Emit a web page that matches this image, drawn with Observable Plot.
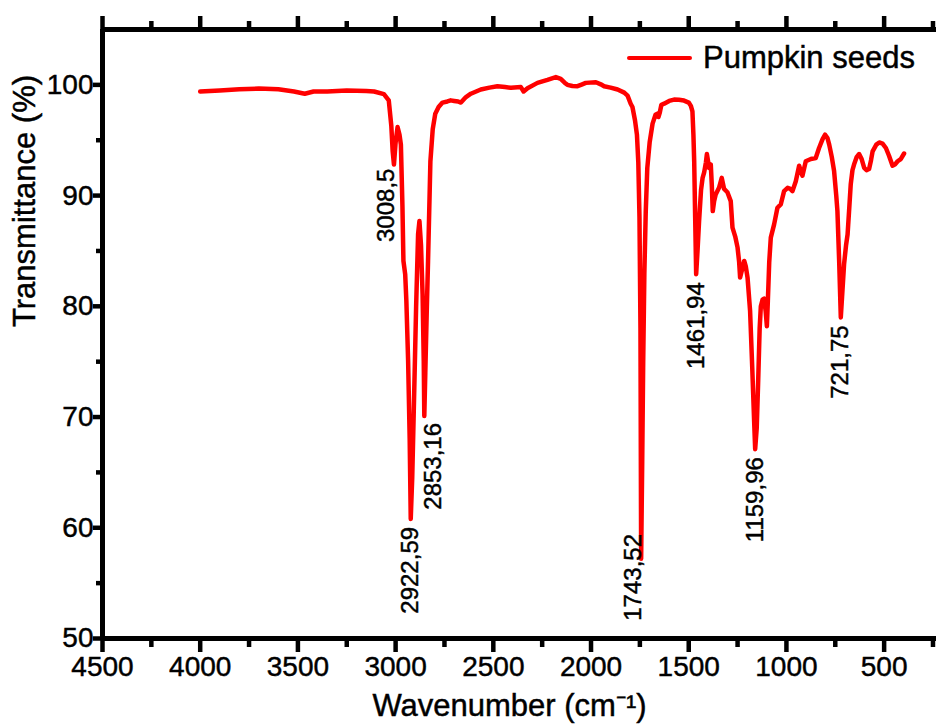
<!DOCTYPE html>
<html><head><meta charset="utf-8">
<script src="https://cdn.jsdelivr.net/npm/d3@7"></script>
<script src="https://cdn.jsdelivr.net/npm/@observablehq/plot@0.6"></script>
<style>
body{margin:0;background:#fff;font-family:"Liberation Sans",Arial,sans-serif;}
#wrap{position:relative;width:936px;height:726px;overflow:hidden;}
#wrap svg text{paint-order:stroke;stroke:#000;stroke-width:0.45px;}
.legend{position:absolute;left:627px;top:40px;display:flex;align-items:center;font-size:31px;color:#000;white-space:nowrap;-webkit-text-stroke:0.45px #000;}
.legend .sw{width:65px;height:4.5px;background:#ff0000;border-radius:2px;margin-right:11px;}
</style></head><body><div id="wrap"></div>
<script>
const seriesName = "Pumpkin seeds";
const xTitle = "Wavenumber (cm\u207B\u00B9)";
const yTitle = "Transmittance (%)";

const wavenumber = [4000,3900,3800,3700,3600,3520,3465,3420,3350,3250,3150,3110,3060,3035,3022,3015,3008.5,3000,2990,2980,2973,2965,2960,2951,2945,2936,2928,2922.59,2915,2905,2895,2885,2878,2870,2862,2856,2853.16,2848,2840,2834,2822,2810,2797,2780,2760,2735,2718,2700,2680,2666,2640,2615,2564,2520,2479,2440,2410,2359,2345,2325,2274,2223,2180,2155,2135,2121,2095,2069,2045,2027,1975,1950,1933,1900,1864,1830,1813,1797,1788,1775,1765,1758,1752,1747,1743.52,1738,1733,1727,1720,1712,1700,1685,1670,1660,1655,1648,1640,1626,1600,1575,1550,1524,1500,1489,1481,1476,1472,1467,1461.94,1455,1447,1437,1429,1421,1412,1407,1400,1396,1387,1382,1377,1370,1362,1345,1331,1319,1302,1285,1276,1262,1250,1242,1237,1226,1216,1208,1199,1186,1175,1165,1159.96,1152,1145,1137,1131,1122,1114,1106,1100,1095,1088,1080,1063,1046,1029,1012,994,980,969,952,935,926,918,901,875,850,833,815,802,790,781,768,756,745,739,730,721.75,713,705,695,687,678,671,662,654,640,628,615,602,590,577,567,559,540,525,508,491,475,457,445,431,415,398];
const transmittance = [99.4,99.5,99.6,99.67,99.6,99.4,99.2,99.4,99.4,99.49,99.45,99.4,99.16,98.6,96.3,94.0,92.8,94.8,96.2,95.5,94.6,89,84.1,82.9,80.5,75.1,68,60.8,64.5,72.1,80,86.5,87.7,85.5,81.1,75,70.1,74,80,84.1,93.1,96,97.4,98.0,98.4,98.5,98.6,98.55,98.5,98.4,98.9,99.2,99.58,99.75,99.88,99.8,99.73,99.8,99.4,99.7,100.18,100.45,100.7,100.54,100.2,100.0,99.9,99.88,100.05,100.18,100.24,100.05,99.88,99.75,99.58,99.3,99.03,98.3,98.0,96.8,95.5,93,88,78,57.2,66,75,83,88.5,92.5,94.8,96.5,97.3,97.4,97.1,97.5,98.2,98.3,98.55,98.67,98.65,98.58,98.4,98.1,97.6,95.5,93.1,88,82.9,85,87.7,90.5,91.6,92.1,93.0,93.75,93.0,92.5,92.8,91,88.6,89.5,90.1,90.7,91.6,90.6,90.3,89.5,87.1,86.3,85.3,84,82.6,83.4,84.1,83.6,82.6,79.6,74.5,69.5,67.1,69,73,78,80.0,80.6,80.7,79.5,78.2,80.5,84,86.2,87.4,88.9,89.2,90.4,90.7,90.6,90.4,91.3,92.7,92.2,91.8,93.1,93.3,93.4,94.3,95.1,95.5,95.2,94.6,93.5,92.2,90,88.6,84,79.0,81.5,83.8,85.5,86.5,89,91.0,92.3,92.8,93.5,93.75,93.3,92.5,92.3,92.4,93.2,94.0,94.6,94.8,94.7,94.3,93.6,92.7,92.8,93.1,93.3,93.8];

const peakWavenumber = [3008.5, 2922.59, 2853.16, 1743.52, 1461.94, 1159.96, 721.75];
const peakLabel = ["3008,5","2922,59","2853,16","1743,52","1461,94","1159,96","721,75"];
const peakLabelT = [92.8, 60.8, 70.1, 59.8, 82.9, 67.1, 79.0];

const majorTicksX = [4500,4000,3500,3000,2500,2000,1500,1000,500];
const minorTicksX = [4250,3750,3250,2750,2250,1750,1250,750,250];
const majorTicksY = [50,60,70,80,90,100];
const minorTicksY = [55,65,75,85,95];

const spectrum = wavenumber.map((w, i) => ({w, t: transmittance[i]}));
const peaks = peakWavenumber.map((w, i) => ({w, t: peakLabelT[i], label: peakLabel[i]}));

const font = "Liberation Sans, Arial, Helvetica, sans-serif";
const axisStroke = 4.5;
const noText = () => "";
const leftLabels = ["3008,5", "1743,52"];
const rightLabels = ["2853,16"];

const chart = Plot.plot({
  width: 936, height: 726,
  marginLeft: 102, marginRight: 0, marginTop: 29, marginBottom: 88,
  style: {fontFamily: font, background: "white", color: "black", overflow: "visible"},
  x: {domain: [4500, 232]},
  y: {domain: [50, 105]},
  marks: [
    // frame
    Plot.ruleY([50], {stroke: "black", strokeWidth: 5}),
    Plot.ruleY([105], {stroke: "black", strokeWidth: 5}),
    Plot.ruleX([4500], {stroke: "black", strokeWidth: 5}),
    // bottom axis
    Plot.axisX({anchor: "bottom", ticks: minorTicksX, tickSize: 9, strokeWidth: axisStroke, tickFormat: noText, label: null}),
    Plot.axisX({anchor: "bottom", ticks: majorTicksX, tickSize: 14, tickPadding: 4, strokeWidth: axisStroke, tickFormat: d => String(d), fontSize: 28, label: null}),
    // top axis
    Plot.axisX({anchor: "top", ticks: minorTicksX, tickSize: 9, strokeWidth: axisStroke, tickFormat: noText, label: null}),
    Plot.axisX({anchor: "top", ticks: majorTicksX, tickSize: 14, strokeWidth: axisStroke, tickFormat: noText, label: null}),
    // left axis
    Plot.axisY({anchor: "left", ticks: minorTicksY, tickSize: 6, strokeWidth: axisStroke, tickFormat: noText, label: null}),
    Plot.axisY({anchor: "left", ticks: majorTicksY, tickSize: 9, tickPadding: 0, strokeWidth: axisStroke, tickFormat: d => String(d), fontSize: 28, label: null}),
    // axis titles
    Plot.text([xTitle], {frameAnchor: "bottom", dy: 77, dx: -10, fontSize: 31, fill: "black"}),
    Plot.text([yTitle], {frameAnchor: "left", rotate: -90, dx: -77, dy: -7, fontSize: 31, fill: "black"}),
    // spectrum
    Plot.line(spectrum, {x: "w", y: "t", stroke: "#ff0000", strokeWidth: 4.5, strokeLinejoin: "round"}),
    // peak labels
    Plot.text(peaks, {filter: d => !leftLabels.includes(d.label) && !rightLabels.includes(d.label), x: "w", y: "t", text: "label", rotate: -90, textAnchor: "end", lineAnchor: "middle", dy: 8, fontSize: 24, fill: "black"}),
    Plot.text(peaks, {filter: d => rightLabels.includes(d.label), x: "w", y: "t", text: "label", rotate: -90, textAnchor: "end", lineAnchor: "top", dy: 7, fontSize: 24, fill: "black"}),
    Plot.text(peaks, {filter: d => leftLabels.includes(d.label), x: "w", y: "t", text: "label", rotate: -90, textAnchor: "end", lineAnchor: "bottom", dx: 0, dy: 4, fontSize: 24, fill: "black"})
  ]
});

const wrap = document.getElementById("wrap");
wrap.appendChild(chart);
const legend = document.createElement("div");
legend.className = "legend";
legend.innerHTML = `<span class="sw"></span><span>${seriesName}</span>`;
wrap.appendChild(legend);
</script>
</body></html>
